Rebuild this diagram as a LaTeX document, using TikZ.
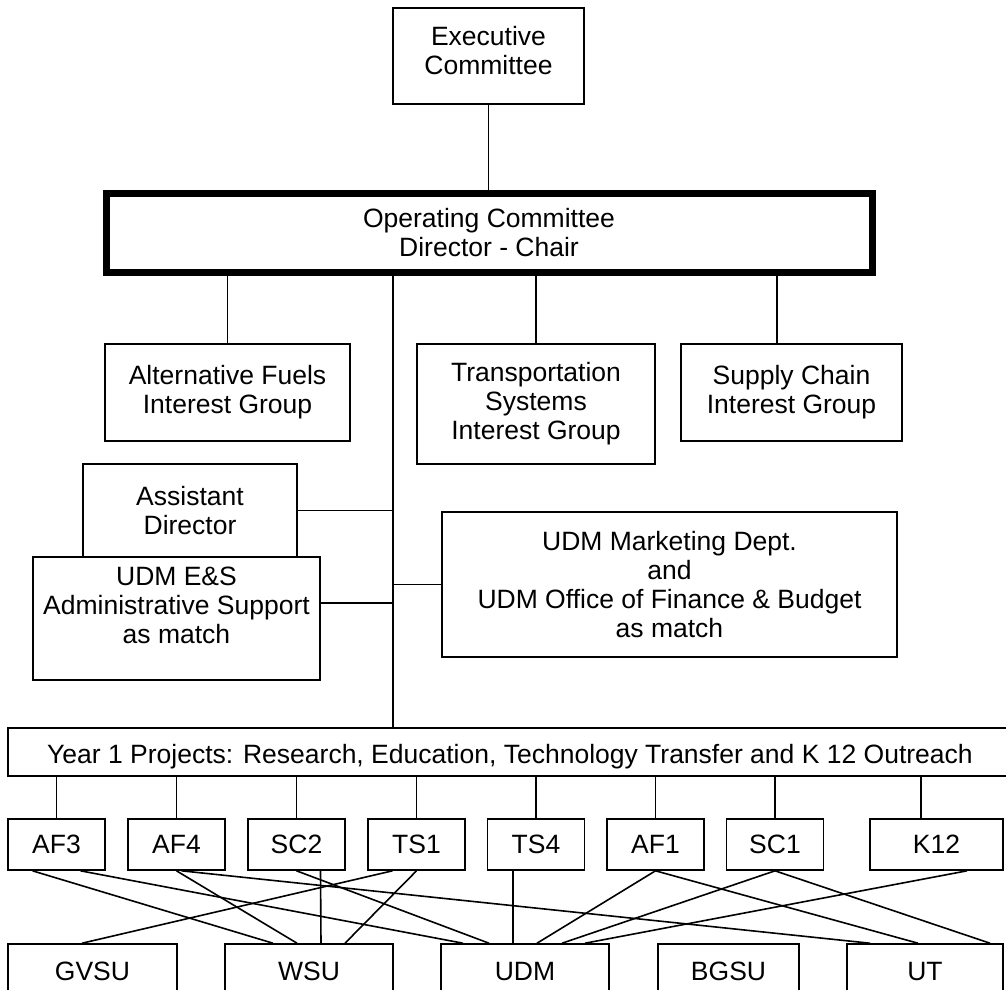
\documentclass[tikz,border=0pt]{standalone}
\usepackage{fontspec}
\setmainfont{Liberation Sans}

\begin{document}
\begin{tikzpicture}[x=1pt,y=-1pt,line width=1.6pt,
        box/.style={draw, rectangle, inner sep=0pt, align=center, font=\fontsize{26.5}{29}\selectfont},
        proj/.style={box, minimum width=97pt, minimum height=51pt},
        site/.style={box, minimum height=54pt}]
    \clip (0,0) rectangle (1006,989);

    % committees
    \node (exec) [box, minimum width=191pt, minimum height=96pt] at (488.5,56) {Executive\\Committee\\[-17pt]\mbox{}};
    \node (opc) [box, line width=7pt, minimum width=766pt, minimum height=79pt] at (489,233) {Operating Committee\\Director - Chair};
    \coordinate (spine) at (393,276);

    % interest groups and support
    \node (altf) [box, minimum width=245pt, minimum height=97pt] at (227.5,392.5) {Alternative Fuels\\Interest Group};
    \node (trans) [box, minimum width=238pt, minimum height=120pt] at (536,404) {Transportation\\Systems\\Interest Group};
    \node (supply) [box, minimum width=221pt, minimum height=97pt] at (791.5,392.5) {Supply Chain\\Interest Group};
    \node (asst) [box, minimum width=214pt, minimum height=93pt] at (190,510.5) {Assistant\\Director};
    \node (mkt) [box, minimum width=455pt, minimum height=145pt] at (669.5,584.5) {UDM Marketing Dept.\\and\\UDM Office of Finance \& Budget\\as match};
    \node (esup) [box, minimum width=287pt, minimum height=123pt] at (176.5,618.5) {UDM E\&S\\Administrative Support\\as match\\[-3pt]\mbox{}};

    % projects
    \node (year1) [box, minimum width=1004pt, minimum height=48pt, text height=22pt, text depth=0pt] at (510,752) {Year 1 Projects: Research, Education, Technology Transfer and K 12 Outreach};
    \node (af3) [proj] at (56.5,844.5) {AF3};
    \node (af4) [proj] at (176.5,844.5) {AF4};
    \node (sc2) [proj] at (296.5,844.5) {SC2};
    \node (ts1) [proj] at (416.5,844.5) {TS1};
    \node (ts4) [proj] at (536,844.5) {TS4};
    \node (af1) [proj] at (655.5,844.5) {AF1};
    \node (sc1) [proj] at (775,844.5) {SC1};
    \node (k12) [proj, minimum width=133pt] at (936.5,844.5) {K12};

    % universities
    \node (gvsu) [site, minimum width=169pt] at (92.5,971) {GVSU};
    \node (wsu) [site, minimum width=168pt] at (309,971) {WSU};
    \node (udm) [site, minimum width=168pt] at (525,971) {UDM};
    \node (bgsu) [site, minimum width=141pt] at (728.5,971) {BGSU};
    \node (ut) [site, minimum width=156pt] at (925,971) {UT};

    % tree
    \draw (exec.south) -- (exec.south |- opc.north);
    \draw (altf.north) -- (altf.north |- opc.south);
    \draw (trans.north) -- (trans.north |- opc.south);
    \draw ([xshift=-14.5pt]supply.north) -- ([xshift=-14.5pt]supply.north |- opc.south);
    \draw (spine) -- (spine |- year1.north);
    \draw (asst.east) -- (asst.east -| spine);
    \draw (mkt.west) -- (mkt.west -| spine);
    \draw ([yshift=15.5pt]esup.east) -- ([yshift=15.5pt]esup.east -| spine);
    \foreach \p in {af3,af4,sc2,ts1,ts4,af1,sc1}
        \draw (\p.north) -- (\p.north |- year1.south);
    \draw ([xshift=-15.5pt]k12.north) -- ([xshift=-15.5pt]k12.north |- year1.south);

    % project partners
    \draw ([xshift=-24pt]af3.south) -- ([xshift=-36pt]wsu.north);
    \draw ([xshift=24pt]af3.south) -- ([xshift=-62pt]udm.north);
    \draw (af4.south) -- ([xshift=-12pt]wsu.north);
    \draw ([xshift=5pt]af4.south) -- ([xshift=-55pt]ut.north);
    \draw ([xshift=24pt]sc2.south) -- ([xshift=12pt]wsu.north);
    \draw (sc2.south) -- ([xshift=-36pt]udm.north);
    \draw ([xshift=-24pt]ts1.south) -- ([xshift=-10.5pt]gvsu.north);
    \draw (ts1.south) -- ([xshift=36pt]wsu.north);
    \draw ([xshift=-23pt]ts4.south) -- ([xshift=-12pt]udm.north);
    \draw (af1.south) -- ([xshift=12pt]udm.north);
    \draw (af1.south) -- ([xshift=-7pt]ut.north);
    \draw (sc1.south) -- ([xshift=37pt]udm.north);
    \draw (sc1.south) -- ([xshift=65pt]ut.north);
    \draw ([xshift=30.5pt]k12.south) -- ([xshift=60pt]udm.north);
\end{tikzpicture}
\end{document}
